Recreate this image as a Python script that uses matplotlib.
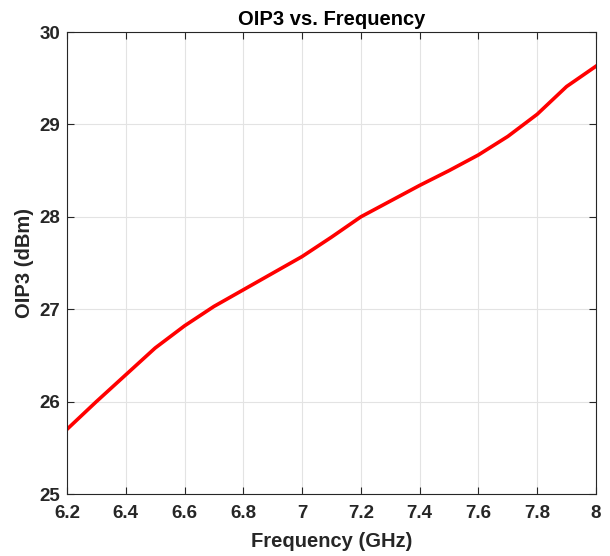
import matplotlib
matplotlib.use("Agg")
import matplotlib.pyplot as plt

freq = [6.2, 6.3, 6.4, 6.5, 6.6, 6.7, 6.8, 6.9, 7.0, 7.1, 7.2, 7.3, 7.4, 7.5, 7.6, 7.7, 7.8, 7.9, 8.0]
oip3 = [25.70, 26.00, 26.29, 26.58, 26.82, 27.03, 27.21, 27.39, 27.57, 27.78, 28.00, 28.17, 28.34, 28.50, 28.67, 28.87, 29.11, 29.41, 29.63]
xticks = [6.2, 6.4, 6.6, 6.8, 7.0, 7.2, 7.4, 7.6, 7.8, 8.0]
xticklabels = ["6.2", "6.4", "6.6", "6.8", "7", "7.2", "7.4", "7.6", "7.8", "8"]
yticks = [25, 26, 27, 28, 29, 30]

plt.rcParams["font.family"] = ["Liberation Sans", "DejaVu Sans"]
plt.rcParams["font.weight"] = "bold"

fig = plt.figure(figsize=(6.1, 5.56), dpi=100)
ax = fig.add_axes([0.1098, 0.1115, 0.8672, 0.8309])
ax.plot(freq, oip3, color="#ff0000", lw=2.6)
ax.set_xlim(6.2, 8.0)
ax.set_ylim(25, 30)
ax.set_xticks(xticks)
ax.set_xticklabels(xticklabels)
ax.set_yticks(yticks)
ax.grid(True, color="#e3e3e3", lw=0.8)
ax.set_axisbelow(True)
ax.tick_params(direction="in", top=True, right=True, labelsize=13.5, length=5, width=0.8, colors="#262626")
ax.tick_params(axis="x", pad=8)
ax.tick_params(axis="y", pad=5)
for lab in ax.get_xticklabels() + ax.get_yticklabels():
    lab.set_fontweight("bold")
for s in ax.spines.values():
    s.set_color("#262626")
    s.set_linewidth(0.8)
ax.set_title("OIP3 vs. Frequency", fontsize=14.5, fontweight="bold", pad=5)
ax.set_xlabel("Frequency (GHz)", fontsize=14.5, fontweight="bold", color="#262626", labelpad=7)
ax.set_ylabel("OIP3 (dBm)", fontsize=14.5, fontweight="bold", color="#262626", labelpad=4)
fig.savefig("out.png", dpi=100)
